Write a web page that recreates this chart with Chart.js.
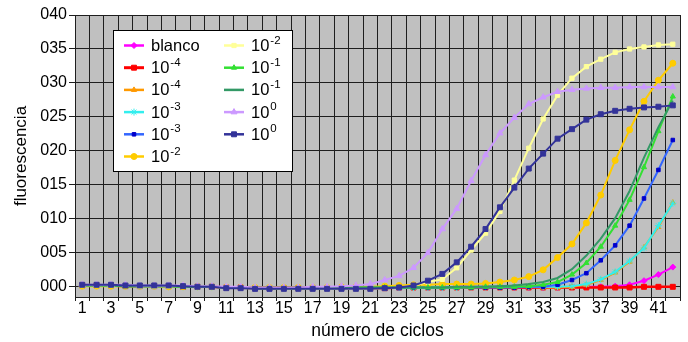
<!DOCTYPE html>
<html>
<head>
<meta charset="utf-8">
<script src="https://cdn.jsdelivr.net/npm/chart.js@4.4.1/dist/chart.umd.min.js"></script>
<style>
  html, body { margin: 0; padding: 0; background: #ffffff; }
  canvas { display: block; }
</style>
</head>
<body>
<canvas id="chart" width="688" height="342"></canvas>
<script>
// PCR amplification curves: fluorescence per cycle for each dilution
const cycles = ['1','2','3','4','5','6','7','8','9','10','11','12','13','14','15','16','17','18','19','20','21',
                '22','23','24','25','26','27','28','29','30','31','32','33','34','35','36','37','38','39','40','41','42'];

const yTickValues = [0, 0.005, 0.010, 0.015, 0.020, 0.025, 0.030, 0.035, 0.040];
const yTickLabels = ['000', '005', '010', '015', '020', '025', '030', '035', '040'];

const legendBase = ['blanco', '10', '10', '10', '10', '10', '10', '10', '10', '10', '10'];
const legendExp  = ['',       '-4', '-4', '-3', '-3', '-2', '-2', '-1', '-1', '0',  '0'];

const blanco = [0.0002,0.0002,0.0002,0.0002,0.0001,0.0001,0.0001,0.0001,0.0000,0.0000,-0.0001,-0.0001,-0.0002,-0.0002,-0.0002,-0.0002,-0.0002,-0.0002,-0.0002,-0.0002,-0.0002,
                -0.0001,-0.0001,-0.0001,-0.0001,-0.0001,0.0000,0.0000,0.0000,0.0000,-0.0001,-0.0001,-0.0001,-0.0001,0.0000,0.0000,0.0000,0.0001,0.0003,0.0009,0.0018,0.0029];
const redE4 = [0.0002,0.0002,0.0002,0.0001,0.0001,0.0001,0.0001,0.0000,0.0000,0.0000,-0.0001,-0.0001,-0.0002,-0.0002,-0.0002,-0.0002,-0.0002,-0.0002,-0.0002,-0.0002,-0.0002,
               -0.0002,-0.0001,-0.0001,-0.0001,-0.0001,-0.0001,-0.0001,-0.0001,-0.0001,-0.0001,-0.0001,-0.0001,-0.0001,-0.0001,-0.0001,-0.0001,-0.0001,-0.0001,0.0000,0.0000,0.0000];
const orangeE4 = [0.0002,0.0002,0.0002,0.0002,0.0001,0.0001,0.0001,0.0000,0.0000,0.0000,-0.0001,-0.0001,-0.0002,-0.0002,-0.0002,-0.0002,-0.0002,-0.0002,-0.0002,-0.0002,-0.0002,
                  -0.0001,-0.0001,-0.0001,-0.0001,-0.0001,0.0000,0.0000,0.0000,0.0000,0.0000,0.0000,-0.0001,-0.0001,0.0000,0.0003,0.0010,0.0021,0.0037,0.0058,0.0088,0.0124];
const cyanE3 = [0.0002,0.0002,0.0002,0.0001,0.0001,0.0001,0.0001,0.0000,0.0000,0.0000,-0.0001,-0.0001,-0.0002,-0.0002,-0.0002,-0.0002,-0.0002,-0.0002,-0.0002,-0.0002,-0.0001,
                -0.0001,-0.0001,-0.0001,-0.0001,-0.0001,-0.0001,0.0000,0.0000,0.0000,0.0000,0.0000,0.0000,0.0000,0.0001,0.0004,0.0011,0.0022,0.0038,0.0057,0.0090,0.0123];
const blueE3 = [0.0002,0.0002,0.0002,0.0002,0.0001,0.0001,0.0001,0.0001,0.0000,0.0000,-0.0001,-0.0001,-0.0002,-0.0002,-0.0002,-0.0002,-0.0002,-0.0002,-0.0002,-0.0002,-0.0002,
                -0.0001,-0.0001,-0.0001,-0.0001,-0.0001,-0.0001,-0.0001,-0.0001,-0.0001,-0.0001,0.0000,0.0000,0.0003,0.0010,0.0020,0.0039,0.0061,0.0090,0.0130,0.0172,0.0216];
const goldE2 = [0.0001,0.0001,0.0001,0.0001,0.0001,0.0001,0.0000,0.0000,0.0000,0.0000,-0.0001,-0.0001,-0.0001,-0.0001,-0.0001,-0.0001,-0.0001,-0.0001,0.0000,0.0000,0.0000,
                0.0001,0.0002,0.0003,0.0003,0.0004,0.0004,0.0004,0.0005,0.0007,0.0010,0.0015,0.0025,0.0043,0.0063,0.0094,0.0135,0.0186,0.0231,0.0273,0.0304,0.0329];
const yellowE2 = [0.0002,0.0002,0.0002,0.0002,0.0001,0.0001,0.0001,0.0001,0.0000,0.0000,-0.0001,-0.0002,-0.0002,-0.0002,-0.0003,-0.0003,-0.0003,-0.0003,-0.0003,-0.0003,-0.0003,
                  -0.0002,-0.0001,0.0002,0.0007,0.0011,0.0028,0.0054,0.0079,0.0111,0.0157,0.0204,0.0247,0.0282,0.0307,0.0324,0.0335,0.0345,0.0350,0.0353,0.0356,0.0357];
const lightGreenE1 = [0.0002,0.0002,0.0002,0.0001,0.0001,0.0001,0.0001,0.0000,0.0000,0.0000,-0.0001,-0.0001,-0.0002,-0.0002,-0.0002,-0.0002,-0.0002,-0.0002,-0.0002,-0.0001,-0.0001,
                      -0.0001,-0.0001,-0.0001,-0.0001,-0.0001,-0.0001,-0.0001,0.0000,0.0000,0.0000,0.0001,0.0003,0.0007,0.0018,0.0035,0.0059,0.0090,0.0128,0.0176,0.0229,0.0280];
const darkGreenE1 = [0.0002,0.0002,0.0002,0.0001,0.0001,0.0001,0.0001,0.0000,0.0000,0.0000,-0.0001,-0.0001,-0.0002,-0.0002,-0.0002,-0.0002,-0.0002,-0.0002,-0.0002,-0.0001,-0.0001,
                     -0.0001,-0.0001,-0.0001,-0.0001,-0.0001,0.0000,0.0000,0.0000,0.0001,0.0002,0.0004,0.0007,0.0013,0.0026,0.0046,0.0071,0.0101,0.0141,0.0190,0.0235,0.0274];
const lavenderE0 = [0.0003,0.0003,0.0003,0.0003,0.0002,0.0002,0.0002,0.0002,0.0001,0.0001,0.0000,0.0000,-0.0001,-0.0001,-0.0001,-0.0001,0.0000,0.0000,0.0001,0.0002,0.0004,
                    0.0010,0.0016,0.0028,0.0050,0.0085,0.0115,0.0156,0.0194,0.0226,0.0249,0.0269,0.0279,0.0287,0.0290,0.0292,0.0293,0.0293,0.0294,0.0294,0.0294,0.0294];
const navyE0 = [0.0003,0.0003,0.0003,0.0002,0.0002,0.0002,0.0002,0.0001,0.0000,0.0000,-0.0002,-0.0002,-0.0003,-0.0003,-0.0003,-0.0003,-0.0003,-0.0003,-0.0003,-0.0003,-0.0003,
                -0.0002,-0.0001,0.0002,0.0009,0.0019,0.0036,0.0059,0.0085,0.0117,0.0146,0.0174,0.0196,0.0218,0.0232,0.0246,0.0254,0.0259,0.0262,0.0264,0.0265,0.0267];

const FONT = "'Liberation Sans', Arial, sans-serif";

function series(label, data, line, point, style, radius, width) {
  return {
    label, data,
    borderColor: line,
    backgroundColor: point,
    pointBackgroundColor: point,
    pointBorderColor: point,
    pointStyle: style,
    pointRadius: style ? radius : 0,
    pointBorderWidth: 1,
    borderWidth: width,
    tension: 0
  };
}

const datasets = [
  series('blanco', blanco,       '#ff00ff', '#ff00ff', 'rectRot',  3,   2),
  series('10-4',  redE4,         '#ff0000', '#ff0000', 'rect',     3.5, 2.5),
  series('10-4',  orangeE4,      '#ff9900', '#ff9900', 'triangle', 3,   2),
  series('10-3',  cyanE3,        '#33eeee', '#33eeee', 'star',     3.5, 2),
  series('10-3',  blueE3,        '#3366ff', '#0000cc', 'rect',     2.5, 2),
  series('10-2',  goldE2,        '#ffcc00', '#ffcc00', 'circle',   3,   2),
  series('10-2',  yellowE2,      '#ffff99', '#ffff99', 'rect',     3,   2),
  series('10-1',  lightGreenE1,  '#33e033', '#33e033', 'triangle', 3,   2),
  series('10-1',  darkGreenE1,   '#339966', '#339966', false,      0,   2),
  series('100',   lavenderE0,    '#cc99ff', '#cc99ff', 'triangle', 3.5, 2),
  series('100',   navyE0,        '#333399', '#333399', 'rect',     3.5, 2)
];
// later series are painted over earlier ones
datasets.forEach((d, i) => { d.order = datasets.length - 1 - i; });

const plotBackground = {
  id: 'plotBackground',
  beforeDraw(chart) {
    const { ctx, chartArea: a } = chart;
    ctx.save();
    ctx.fillStyle = '#c0c0c0';
    ctx.fillRect(a.left, a.top, a.right - a.left, a.bottom - a.top);
    ctx.restore();
  }
};

function drawMarker(ctx, ds, x, y) {
  if (!ds.pointStyle) return;
  ctx.fillStyle = ds.pointBackgroundColor;
  ctx.strokeStyle = ds.pointBorderColor;
  ctx.lineWidth = 1;
  if (Chart.helpers && Chart.helpers.drawPoint) {
    Chart.helpers.drawPoint(ctx, { pointStyle: ds.pointStyle, radius: ds.pointRadius, borderWidth: 1, rotation: 0 }, x, y);
  } else {
    ctx.beginPath();
    ctx.arc(x, y, ds.pointRadius, 0, Math.PI * 2);
    ctx.fill();
  }
}

const boxLegend = {
  id: 'boxLegend',
  afterDraw(chart) {
    const ctx = chart.ctx;
    ctx.save();
    ctx.fillStyle = '#ffffff';
    ctx.strokeStyle = '#000000';
    ctx.lineWidth = 1;
    ctx.fillRect(113.5, 30.5, 179, 141);
    ctx.strokeRect(113.5, 30.5, 179, 141);
    chart.data.datasets.forEach((ds, i) => {
      const col = i < 6 ? 0 : 1;
      const row = i < 6 ? i : i - 6;
      const x0 = col === 0 ? 124 : 224;
      const y = 45.5 + row * 22.2;
      ctx.strokeStyle = ds.borderColor;
      ctx.lineWidth = ds.borderWidth + 0.5;
      ctx.beginPath();
      ctx.moveTo(x0, y);
      ctx.lineTo(x0 + 20, y);
      ctx.stroke();
      drawMarker(ctx, ds, x0 + 10, y);
      const tx = x0 + 27;
      ctx.fillStyle = '#000000';
      ctx.textAlign = 'left';
      ctx.textBaseline = 'middle';
      ctx.font = '16.5px ' + FONT;
      ctx.fillText(legendBase[i], tx, y + 1);
      if (legendExp[i]) {
        const w = ctx.measureText(legendBase[i]).width;
        ctx.font = '11.5px ' + FONT;
        ctx.fillText(legendExp[i], tx + w + 1, y - 5);
      }
    });
    ctx.restore();
  }
};

new Chart(document.getElementById('chart'), {
  type: 'line',
  data: { labels: cycles, datasets },
  plugins: [plotBackground, boxLegend],
  options: {
    responsive: false,
    animation: false,
    devicePixelRatio: 1,
    layout: { padding: { top: 15, right: 8, left: 0, bottom: 0 } },
    plugins: { legend: { display: false }, tooltip: { enabled: false } },
    font: { family: FONT },
    scales: {
      x: {
        type: 'category',
        offset: true,
        grid: { offset: true, color: '#1e1e1e', lineWidth: 1, tickLength: 4, drawTicks: true },
        border: { display: true, color: '#1e1e1e' },
        ticks: {
          autoSkip: false, maxRotation: 0, minRotation: 0, padding: -2,
          color: '#000', font: { family: FONT, size: 16 },
          callback: (v, i) => (i % 2 === 0 ? cycles[i] : '')
        },
        title: { display: true, text: 'número de ciclos', color: '#000',
                 font: { family: FONT, size: 17.5 }, padding: { top: 0, bottom: 0 } },
        afterFit: s => { s.height = 45; }
      },
      y: {
        min: -0.0015,
        max: 0.040,
        afterBuildTicks: s => { s.ticks = yTickValues.map(v => ({ value: v })); },
        grid: { color: '#1e1e1e', lineWidth: 1, tickLength: 6, drawTicks: true },
        border: { display: true, color: '#1e1e1e' },
        ticks: {
          padding: 2, color: '#000', font: { family: FONT, size: 16 },
          callback: v => { const k = yTickValues.findIndex(t => Math.abs(t - v) < 1e-9); return k >= 0 ? yTickLabels[k] : ''; }
        },
        title: { display: true, text: 'fluorescencia', color: '#000',
                 font: { family: FONT, size: 17 }, padding: { top: 11, bottom: 0 } },
        afterFit: s => { s.width = 75; }
      }
    }
  }
});
</script>
</body>
</html>
